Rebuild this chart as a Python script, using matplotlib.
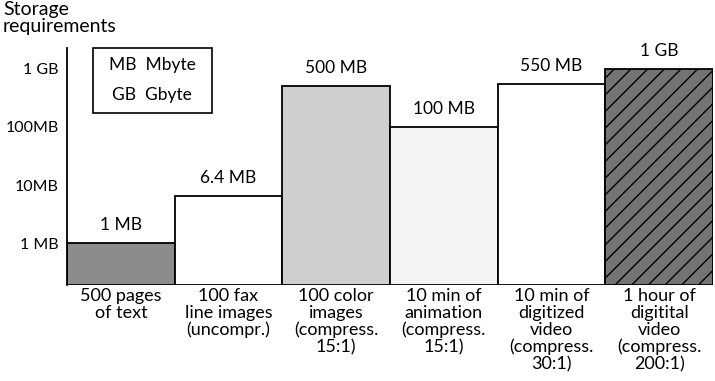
import matplotlib
matplotlib.use("Agg")
import matplotlib.pyplot as plt
from matplotlib.patches import Rectangle

plt.rcParams['font.family'] = ['Lato', 'DejaVu Sans']
plt.rcParams['hatch.linewidth'] = 1.0

# Storage needs of various media, in MB
categories = [
    "500 pages\nof text",
    "100 fax\nline images\n(uncompr.)",
    "100 color\nimages\n(compress.\n15:1)",
    "10 min of\nanimation\n(compress.\n15:1)",
    "10 min of\ndigitized\nvideo\n(compress.\n30:1)",
    "1 hour of\ndigitital\nvideo\n(compress.\n200:1)",
]
values_mb = [1, 6.4, 500, 100, 550, 1000]
value_labels = ["1 MB", "6.4 MB", "500 MB", "100 MB", "550 MB", "1 GB"]
tick_values = [1, 10, 100, 1000]
tick_labels = ["1 MB", "10MB", "100MB", "1 GB"]

fills = ["#8c8c8c", "white", "#cfcfcf", "#f4f4f4", "white", "#747474"]
hatches = [None, None, None, None, None, "//"]

fig = plt.figure(figsize=(7.15, 3.81), dpi=100)
ax = fig.add_axes([67 / 715, 96 / 381, 646 / 715, 237 / 381])

base = 0.189
ax.set_yscale("log")
ax.set_ylim(base, 2300)
ax.set_xlim(-0.5, 5.5)

x = list(range(len(values_mb)))
for xi, v, fc, h in zip(x, values_mb, fills, hatches):
    ax.bar(xi, v - base, bottom=base, width=1.0, facecolor=fc,
           edgecolor="black", linewidth=1.3, hatch=h, zorder=2)

for xi, v, lab in zip(x, values_mb, value_labels):
    ax.annotate(lab, (xi, v), xytext=(0, 13), textcoords="offset points",
                ha="center", va="center", fontsize=12.5, annotation_clip=False)

ax.set_yticks(tick_values)
ax.set_yticklabels(tick_labels, fontsize=11.5)
ax.yaxis.set_minor_locator(matplotlib.ticker.NullLocator())
ax.tick_params(axis="y", length=0, pad=6)

ax.set_xticks(x)
ax.set_xticklabels(categories, fontsize=13, linespacing=1.07, va="top")
ax.tick_params(axis="x", length=0, pad=2)

for side in ("top", "right", "bottom"):
    ax.spines[side].set_visible(False)
ax.spines["left"].set_linewidth(1.3)

fig.text(3 / 715, 1 - 1 / 381, "Storage\nrequirements", ha="left", va="top",
         fontsize=14, linespacing=1.0)

# Abbreviation key
fig.add_artist(Rectangle((93 / 715, 1 - 113 / 381), 119 / 715, 65 / 381,
                         transform=fig.transFigure, facecolor="white",
                         edgecolor="black", linewidth=1.2))
fig.text(152 / 715, 1 - 65 / 381, "MB  Mbyte", ha="center", va="center",
         fontsize=12.5)
fig.text(152 / 715, 1 - 95 / 381, "GB  Gbyte", ha="center", va="center",
         fontsize=12.5)

fig.savefig("out.png", dpi=100)
